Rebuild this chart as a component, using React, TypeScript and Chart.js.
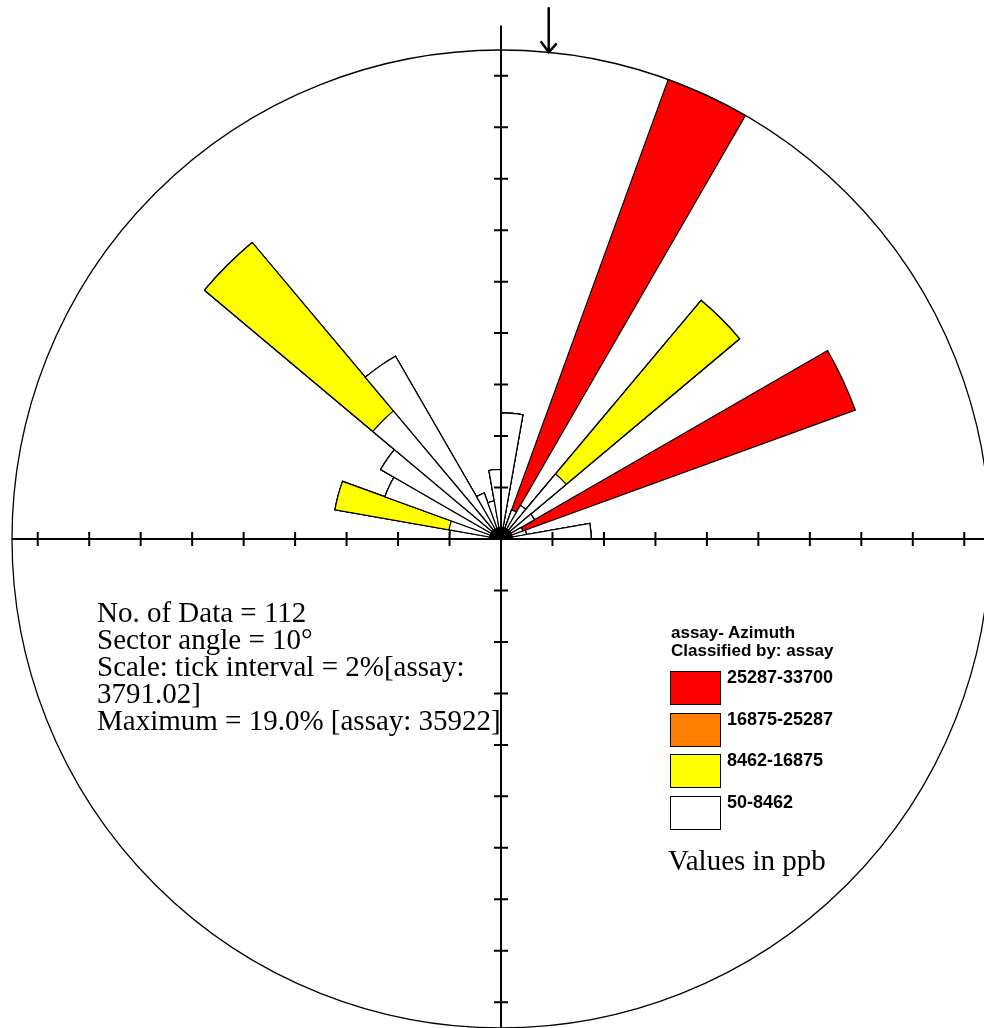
import React, { useEffect, useRef } from "react";
import { Chart, registerables } from "chart.js";

Chart.register(...registerables);

// ---- Data (percent of data per 10° sector, stacked by assay class) ----
const sectorStarts = [
  0, 10, 20, 30, 40, 50, 60, 70, 80, 90, 100, 110, 120, 130, 140, 150, 160, 170,
  180, 190, 200, 210, 220, 230, 240, 250, 260, 270, 280, 290, 300, 310, 320, 330, 340, 350,
];
// class 50-8462 (white)
const classLow = [
  4.9, 0, 1.2, 1.5, 3.3, 1.5, 0.9, 1.0, 3.5, 0, 0, 0, 0, 0, 0, 0, 0, 0,
  0, 0, 0, 0, 0, 0, 0, 0, 0, 2.0, 2.05, 4.8, 5.4, 6.5, 8.2, 1.9, 1.5, 2.7,
];
// class 8462-16875 (yellow)
const classMid = [
  0, 0, 0, 0, 8.8, 0, 0, 0, 0, 0, 0, 0, 0, 0, 0, 0, 0, 0,
  0, 0, 0, 0, 0, 0, 0, 0, 0, 0, 4.5, 0, 0, 8.54, 0, 0, 0, 0,
];
// class 16875-25287 (orange)
const classUpper = [
  0, 0, 0, 0, 0, 0, 0, 0, 0, 0, 0, 0, 0, 0, 0, 0, 0, 0,
  0, 0, 0, 0, 0, 0, 0, 0, 0, 0, 0, 0, 0, 0, 0, 0, 0, 0,
];
// class 25287-33700 (red)
const classHigh = [
  0, 0, 17.8, 0, 0, 0, 13.75, 0, 0, 0, 0, 0, 0, 0, 0, 0, 0, 0,
  0, 0, 0, 0, 0, 0, 0, 0, 0, 0, 0, 0, 0, 0, 0, 0, 0, 0,
];

const legendTitle = ["assay- Azimuth", "Classified by: assay"];
const legendLabels = ["25287-33700", "16875-25287", "8462-16875", "50-8462"];
const legendColors = ["#ff0000", "#ff8000", "#ffff00", "#ffffff"];

const nData = 112;
const sectorAngle = 10;
const tickInterval = 2; // percent
const tickAssay = "3791.02";
const maxPercent = 19.0;
const maxAssay = 35922;
const meanAzimuth = 5.6; // arrow direction (degrees)
const unitsNote = "Values in ppb";

const SERIF = '"Liberation Serif", "Times New Roman", serif';
const SANS = '"Liberation Sans Narrow", "Arial Narrow", "Liberation Sans", Arial, sans-serif';

function cumulative(...layers: number[][]): number[][] {
  const out: number[][] = [];
  let acc = layers[0].map(() => 0);
  for (const l of layers) {
    acc = acc.map((a, i) => a + l[i]);
    out.push(acc.slice());
  }
  return out;
}

const roseFrame = {
  id: "roseFrame",
  afterDatasetsDraw(chart: any) {
    const s = chart.scales.r;
    const ctx = chart.ctx as CanvasRenderingContext2D;
    const cx = s.xCenter;
    const cy = s.yCenter;
    const R = s.getDistanceFromCenterForValue(maxPercent);
    ctx.save();
    // centre convergence blob
    ctx.fillStyle = "#000";
    ctx.beginPath();
    ctx.arc(cx, cy, 12, Math.PI, 2 * Math.PI);
    ctx.closePath();
    ctx.fill();
    // outer circle
    ctx.strokeStyle = "#000";
    ctx.lineWidth = 1.3;
    ctx.beginPath();
    ctx.arc(cx, cy, R, 0, Math.PI * 2);
    ctx.stroke();
    // axes
    ctx.lineWidth = 2;
    ctx.beginPath();
    ctx.moveTo(cx - R, cy);
    ctx.lineTo(cx + R, cy);
    ctx.moveTo(cx, cy - R * 1.05);
    ctx.lineTo(cx, cy + R);
    ctx.stroke();
    // ticks every tickInterval %
    ctx.beginPath();
    for (let v = tickInterval; v < maxPercent; v += tickInterval) {
      const d = s.getDistanceFromCenterForValue(v);
      ctx.moveTo(cx - d, cy - 7);
      ctx.lineTo(cx - d, cy + 7);
      ctx.moveTo(cx + d, cy - 7);
      ctx.lineTo(cx + d, cy + 7);
      ctx.moveTo(cx - 7, cy - d);
      ctx.lineTo(cx + 7, cy - d);
      ctx.moveTo(cx - 7, cy + d);
      ctx.lineTo(cx + 7, cy + d);
    }
    ctx.stroke();
    // mean direction arrow
    const a = (meanAzimuth * Math.PI) / 180;
    const tx = cx + R * Math.sin(a);
    const ty = cy - R * Math.cos(a);
    ctx.lineWidth = 2.5;
    ctx.beginPath();
    ctx.moveTo(tx, ty - 45);
    ctx.lineTo(tx, ty);
    ctx.moveTo(tx - 8, ty - 11);
    ctx.lineTo(tx, ty);
    ctx.lineTo(tx + 8, ty - 9);
    ctx.stroke();
    ctx.restore();
  },
};

export default function App() {
  const ref = useRef<HTMLCanvasElement | null>(null);

  useEffect(() => {
    if (!ref.current) return;
    const [cLow, cMid, cUpper, cHigh] = cumulative(classLow, classMid, classUpper, classHigh);
    const layers = [cLow, cMid, cUpper, cHigh];
    const colors = [legendColors[3], legendColors[2], legendColors[1], legendColors[0]];
    const names = [legendLabels[3], legendLabels[2], legendLabels[1], legendLabels[0]];
    const chart = new Chart(ref.current, {
      type: "polarArea",
      data: {
        labels: sectorStarts.map((s) => `${s}–${s + sectorAngle}°`),
        datasets: layers.map((d, i) => ({
          label: names[i],
          data: d,
          backgroundColor: colors[i],
          borderColor: "#000",
          borderWidth: (c: any) => (c.raw > 0 ? 1.2 : 0),
          borderJoinStyle: "miter",
        })),
      },
      options: {
        responsive: false,
        animation: false,
        events: [],
        layout: { padding: { left: 12, top: 50, right: 0, bottom: 0 } },
        plugins: { legend: { display: false }, tooltip: { enabled: false } },
        scales: {
          r: {
            min: 0,
            max: maxPercent,
            startAngle: 0,
            grid: { display: false },
            angleLines: { display: false },
            ticks: { display: false },
            pointLabels: { display: false },
          },
        },
      } as any,
      plugins: [roseFrame],
    });
    return () => chart.destroy();
  }, []);

  const statLines = [
    `No. of Data = ${nData}`,
    `Sector angle = ${sectorAngle}°`,
    `Scale: tick interval = ${tickInterval}%[assay:`,
    `${tickAssay}]`,
    `Maximum = ${maxPercent.toFixed(1)}% [assay: ${maxAssay}]`,
  ];

  return (
    <div
      style={{
        position: "fixed",
        left: 0,
        top: 0,
        width: 984,
        height: 1028,
        overflow: "hidden",
        background: "#fff",
      }}
    >
      <canvas ref={ref} width={991} height={1029} style={{ display: "block" }} />
      <div
        style={{
          position: "absolute",
          left: 97,
          top: 599,
          fontFamily: SERIF,
          fontSize: 29,
          lineHeight: "27px",
          color: "#000",
          whiteSpace: "nowrap",
        }}
      >
        {statLines.map((l, i) => (
          <div key={i}>{l}</div>
        ))}
      </div>
      <div
        style={{
          position: "absolute",
          left: 671,
          top: 624,
          fontFamily: SANS,
          fontWeight: "bold",
          fontSize: 17,
          lineHeight: "18px",
          color: "#000",
          whiteSpace: "nowrap",
        }}
      >
        {legendTitle.map((t, i) => (
          <div key={i}>{t}</div>
        ))}
      </div>
      {legendLabels.map((lab, i) => (
        <React.Fragment key={lab}>
          <div
            style={{
              position: "absolute",
              left: 670,
              top: 671 + i * 41.5,
              width: 49,
              height: 32,
              background: legendColors[i],
              border: "1.5px solid #000",
            }}
          />
          <div
            style={{
              position: "absolute",
              left: 727,
              top: 667 + i * 41.5,
              fontFamily: SANS,
              fontWeight: "bold",
              fontSize: 18,
              lineHeight: "20px",
              color: "#000",
              whiteSpace: "nowrap",
            }}
          >
            {lab}
          </div>
        </React.Fragment>
      ))}
      <div
        style={{
          position: "absolute",
          left: 668,
          top: 845,
          fontFamily: SERIF,
          fontSize: 29,
          lineHeight: "30px",
          color: "#000",
          whiteSpace: "nowrap",
        }}
      >
        {unitsNote}
      </div>
    </div>
  );
}
